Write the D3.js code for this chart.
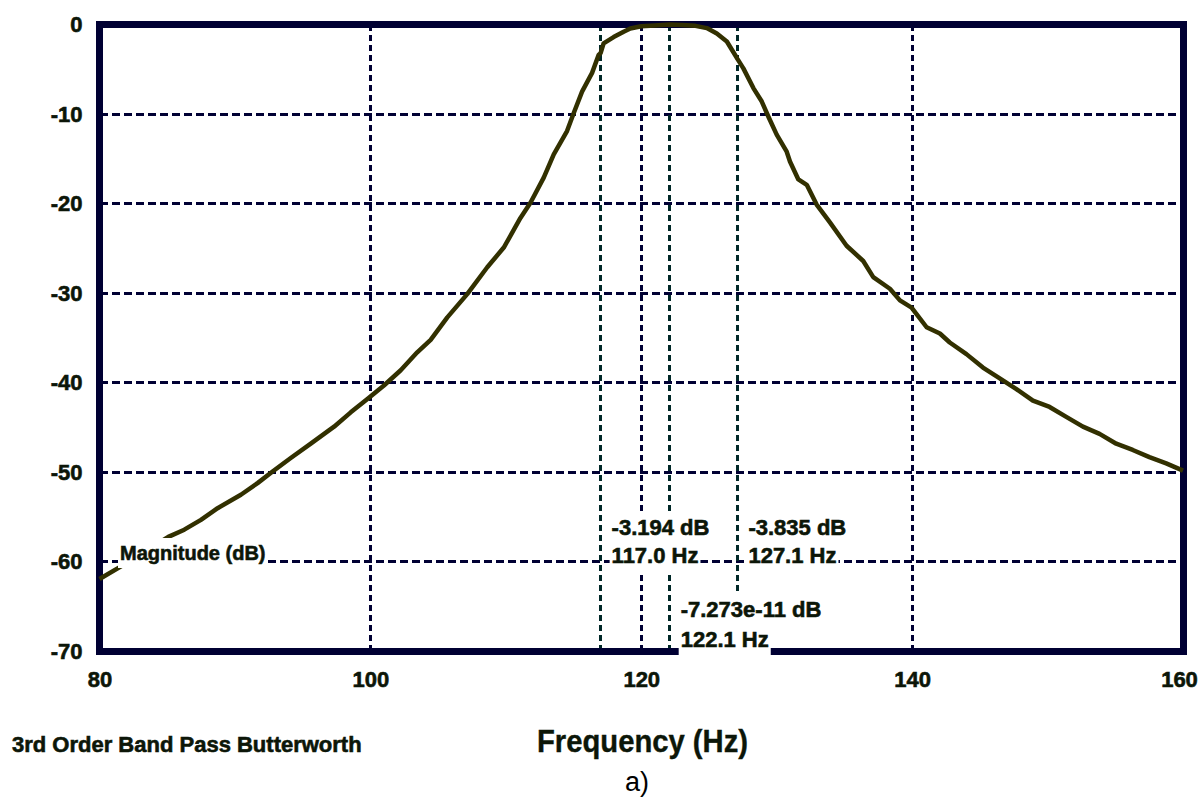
<!DOCTYPE html>
<html>
<head>
<meta charset="utf-8">
<script src="https://cdn.jsdelivr.net/npm/d3@7"></script>
<style>
  html, body { margin: 0; padding: 0; background: #ffffff; }
  svg { display: block; }
  text { font-family: "Liberation Sans", Arial, sans-serif; }
</style>
</head>
<body>
<svg id="chart" width="1200" height="798"></svg>
<script>
// Magnitude response of a 3rd order band pass Butterworth filter
const freqHz = [
  80.0, 81.81, 85.08, 86.26, 87.49, 88.72, 90.44, 91.67, 92.78, 94.12,
  95.60, 97.32, 98.55, 99.78, 101.0, 102.24, 103.46, 104.45, 105.68, 107.15,
  108.63, 109.85, 111.08, 111.82, 112.80, 113.54, 114.52, 115.01, 115.63, 116.37,
  116.85, 117.0, 117.22, 117.96, 118.70, 119.19, 120.0, 121.0, 122.1, 123.0,
  124.0, 124.84, 125.58, 126.32, 126.93, 127.1, 127.54, 128.28, 128.90, 129.39,
  130.0, 130.74, 130.98, 131.60, 132.22, 132.95, 133.93, 135.16, 136.39, 137.13,
  138.36, 139.10, 139.96, 141.07, 142.05, 142.78, 144.01, 145.23, 146.47, 147.70,
  148.92, 150.15, 151.38, 152.61, 153.84, 155.07, 156.29, 157.52, 158.76, 160.0
];
const magnitudeDb = [
  -61.9, -60.3, -57.2, -56.4, -55.3, -54.0, -52.5, -51.2, -49.9, -48.4,
  -46.8, -44.9, -43.3, -41.8, -40.3, -38.6, -36.6, -35.2, -32.7, -30.1,
  -27.1, -24.9, -21.6, -19.9, -17.1, -14.5, -11.9, -9.9, -7.5, -5.4,
  -3.4, -3.194, -2.1, -1.4, -0.8, -0.45, -0.2, -0.1, -7.273e-11, -0.05,
  -0.15, -0.4, -1.0, -1.9, -3.4, -3.835, -4.9, -7.1, -8.6, -10.3,
  -12.3, -14.2, -15.3, -17.3, -17.9, -20.1, -22.1, -24.7, -26.4, -28.2,
  -29.5, -30.8, -31.6, -33.8, -34.5, -35.5, -36.8, -38.3, -39.5, -40.7,
  -42.0, -42.7, -43.8, -44.9, -45.7, -46.8, -47.5, -48.3, -49.0, -49.8
];

// Cursor readouts
const markerFreq = [117.0, 122.1, 127.1];
const markerDb = [-3.194, -7.273e-11, -3.835];

// Axis ticks
const xTicks = [80, 100, 120, 140, 160];
const yTicks = [0, -10, -20, -30, -40, -50, -60, -70];

const seriesName = "Magnitude (dB)";
const xTitle = "Frequency (Hz)";
const chartTitle = "3rd Order Band Pass Butterworth";
const panelTag = "a)";

const svg = d3.select("#chart");
const x = d3.scaleLinear().domain([80, 160]).range([99.5, 1183]);
const y = d3.scaleLinear().domain([0, -70]).range([24.5, 651.5]);

const navy = "#000033";
const teal = "#002828";
const ink = "#0c1608";
const curveColor = "#323000";

svg.append("rect").attr("width", 1200).attr("height", 798).attr("fill", "#fff");

// Horizontal grid
svg.append("g").attr("shape-rendering", "crispEdges").selectAll("line")
  .data(yTicks.filter(d => d < 0 && d > -70))
  .join("line")
  .attr("x1", x(80)).attr("x2", x(160))
  .attr("y1", d => y(d)).attr("y2", d => y(d))
  .attr("stroke", navy).attr("stroke-width", 3)
  .attr("stroke-dasharray", "8,4");

// Vertical grid
svg.append("g").attr("shape-rendering", "crispEdges").selectAll("line")
  .data(xTicks.filter(d => d > 80 && d < 160))
  .join("line")
  .attr("x1", d => x(d)).attr("x2", d => x(d))
  .attr("y1", y(0)).attr("y2", y(-70))
  .attr("stroke", navy).attr("stroke-width", 3)
  .attr("stroke-dasharray", "6,4");

// Cursor lines
svg.append("g").attr("shape-rendering", "crispEdges").selectAll("line")
  .data(markerFreq)
  .join("line")
  .attr("x1", d => x(d)).attr("x2", d => x(d))
  .attr("y1", y(0)).attr("y2", y(-70))
  .attr("stroke", teal).attr("stroke-width", 3)
  .attr("stroke-dasharray", "6,4");

// Plot frame
svg.append("rect")
  .attr("shape-rendering", "crispEdges")
  .attr("x", x(80)).attr("y", y(0))
  .attr("width", x(160) - x(80)).attr("height", y(-70) - y(0))
  .attr("fill", "none").attr("stroke", navy).attr("stroke-width", 7);

// Magnitude curve
const pts = freqHz.map((f, i) => [f, magnitudeDb[i]]);
svg.append("path")
  .datum(pts)
  .attr("d", d3.line().x(d => x(d[0])).y(d => y(d[1])))
  .attr("fill", "none").attr("stroke", curveColor)
  .attr("stroke-width", 4.5).attr("stroke-linejoin", "round");

// Heavy label style
function heavy(sel, size) {
  sel.attr("font-size", size).attr("font-weight", "bold")
    .attr("fill", ink).attr("stroke", ink).attr("stroke-width", 0.6)
    .attr("font-family", "Liberation Sans, Arial, sans-serif");
  return sel;
}

// Axis tick labels
const yAxis = d3.axisLeft(y).tickValues(yTicks).tickSize(0).tickPadding(17)
  .tickFormat(d => String(d));
const gy = svg.append("g").attr("transform", `translate(${x(80)},0)`).call(yAxis);
gy.select(".domain").remove();
heavy(gy.selectAll("text"), 22);

const xAxis = d3.axisBottom(x).tickValues(xTicks).tickSize(0).tickPadding(20)
  .tickFormat(d => String(d));
const gx = svg.append("g").attr("transform", `translate(0,${y(-70)})`).call(xAxis);
gx.select(".domain").remove();
heavy(gx.selectAll("text"), 22);
gx.selectAll("text").filter(d => d === 160).attr("dx", -4);

// Text with a white backing box
function boxedText(g, tx, ty, str, size, pad) {
  const bg = g.append("rect").attr("fill", "#fff");
  const t = heavy(g.append("text").attr("x", tx).attr("y", ty), size).text(str);
  const b = t.node().getBBox();
  bg.attr("x", b.x - pad[0]).attr("y", b.y - pad[1])
    .attr("width", b.width + 2 * pad[0]).attr("height", b.height + 2 * pad[1]);
  return t;
}

// Cursor readouts
const readoutRows = [
  { i: 0, y1: 535, y2: 563 },
  { i: 1, y1: 617, y2: 647 },
  { i: 2, y1: 535, y2: 563 }
];
readoutRows.forEach(r => {
  const g = svg.append("g");
  const tx = x(markerFreq[r.i]) + 11;
  boxedText(g, tx, r.y1, `${markerDb[r.i]} dB`, 22, [2, 3]);
  boxedText(g, tx, r.y2, `${markerFreq[r.i].toFixed(1)} Hz`, 22, [2, 3]);
});

// Series label
boxedText(svg.append("g"), 120, 560, seriesName, 20, [2, 4]);

// Titles
heavy(svg.append("text").attr("x", 12).attr("y", 752), 22).text(chartTitle);

heavy(svg.append("text").attr("x", 537).attr("y", 752), 32)
  .attr("stroke-width", 0.4)
  .attr("textLength", 211).attr("lengthAdjust", "spacingAndGlyphs")
  .text(xTitle);

svg.append("text").attr("x", 625).attr("y", 791)
  .attr("font-size", 27).attr("fill", "#000")
  .attr("font-family", "Liberation Serif, 'Times New Roman', serif")
  .text(panelTag);
</script>
</body>
</html>
